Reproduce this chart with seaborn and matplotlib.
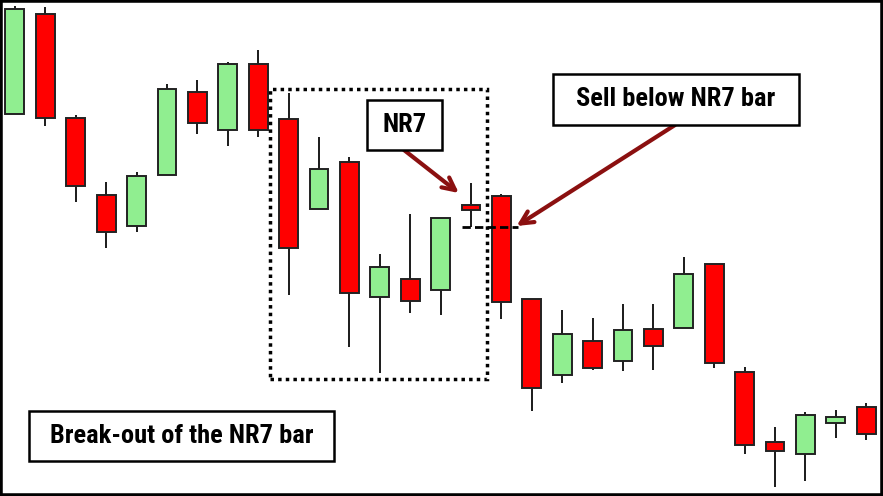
import seaborn as sns
import numpy as np
import pandas as pd
import matplotlib.pyplot as plt
from matplotlib.patches import Rectangle

# candle data (price units)
open_ = [38.6, 48.6, 38.2, 30.5, 27.4, 32.5, 40.8, 37.0, 43.6, 38.1,
         29.1, 33.8, 20.3, 22.1, 21.0, 29.5, 30.4, 20.1, 12.5, 15.9,
         13.9, 17.1, 17.2, 23.6, 12.8, 5.8, 4.6, 7.7, 9.3]
high = [49.4, 49.3, 38.5, 31.8, 32.8, 41.6, 42.0, 43.8, 45.0, 40.7,
        36.3, 34.3, 24.6, 28.6, 28.2, 31.7, 30.6, 20.1, 19.0, 18.2,
        19.6, 19.6, 24.3, 23.6, 13.3, 7.3, 8.8, 9.0, 9.7]
low = [38.6, 37.4, 29.8, 25.2, 26.8, 32.5, 36.6, 35.4, 36.3, 20.5,
       29.1, 15.3, 12.7, 18.7, 18.5, 27.3, 18.1, 8.9, 11.7, 13.0,
       12.9, 13.0, 17.2, 13.2, 4.6, 1.3, 1.9, 6.2, 6.0]
close = [49.1, 38.2, 31.4, 26.8, 32.4, 41.1, 37.7, 43.6, 37.0, 25.2,
         33.1, 20.7, 23.3, 19.9, 28.2, 29.0, 19.8, 11.2, 16.6, 13.2,
         17.0, 15.4, 22.6, 13.7, 5.5, 4.9, 8.5, 8.3, 6.6]

nr7_index = 15
label_nr7 = "NR7"
label_sell = "Sell below NR7 bar"
label_break = "Break-out of the NR7 bar"

df = pd.DataFrame({"open": open_, "high": high, "low": low, "close": close})
df["x"] = np.arange(len(df))
df["up"] = df["close"] >= df["open"]
df["bottom"] = df[["open", "close"]].min(axis=1)
df["body"] = (df["close"] - df["open"]).abs()

sns.set_style("white")
plt.rcParams['font.family'] = ['Roboto Condensed', 'DejaVu Sans']
plt.rcParams['text.color'] = 'black'

W, H = 883, 496
fig = plt.figure(figsize=(W / 100, H / 100), dpi=100)
ax = fig.add_axes([0, 0, 1, 1])

# wicks
ax.vlines(df["x"], df["low"], df["high"], color="#1a1a1a", lw=1.4, zorder=2)
# bodies
cols = np.where(df["up"], "#90EE90", "#FF0000")
ax.bar(df["x"], df["body"], bottom=df["bottom"], width=0.62, color=cols,
       edgecolor="#222222", linewidth=1.4, zorder=3)

ax.set_xlim(-0.49, 28.55)
ax.set_ylim(0.4, 50.0)
ax.set_xticks([])
ax.set_yticks([])
for s in ax.spines.values():
    s.set_visible(True)
    s.set_color("black")
    s.set_linewidth(4)

# dotted box round the seven bars
ax.add_patch(Rectangle((8.39, 12.1), 15.53 - 8.39, 41.1 - 12.1, fill=False,
                       ls=(0, (1, 1.2)), lw=2.5, ec="black", zorder=4))

# dashed line at NR7 low
nlow = df.loc[nr7_index, "low"]
ax.plot([nr7_index - 0.3, nr7_index + 1.55], [nlow, nlow], color="black",
        lw=2, ls=(0, (3, 1.5)), zorder=5)


def px_box(x0, y0, x1, y1, text, fs):
    # box in figure pixels (top-left origin)
    fig.patches.append(Rectangle((x0 / W, 1 - y1 / H), (x1 - x0) / W, (y1 - y0) / H,
                                 transform=fig.transFigure, fc="white",
                                 ec="black", lw=1.8, zorder=6))
    fig.text((x0 + x1) / 2 / W, 1 - (y0 + y1) / 2 / H, text, ha="center",
             va="center", fontsize=fs, fontweight="bold", color="black", zorder=7)


px_box(367, 100, 442, 150, label_nr7, 19)
px_box(553, 74, 799, 125, label_sell, 19)
px_box(29, 411, 334, 461, label_break, 19)

arrow_kw = dict(arrowstyle="->,head_length=0.9,head_width=0.45", color="#8B1010",
                lw=3, shrinkA=0, shrinkB=0)
ax.annotate("", xy=(14.6, 30.7), xytext=(404, H - 150),
            textcoords="figure pixels", arrowprops=arrow_kw, zorder=8)
ax.annotate("", xy=(16.5, nlow + 0.1), xytext=(675, H - 125),
            textcoords="figure pixels", arrowprops=arrow_kw, zorder=8)

fig.savefig("out.png", dpi=100)
